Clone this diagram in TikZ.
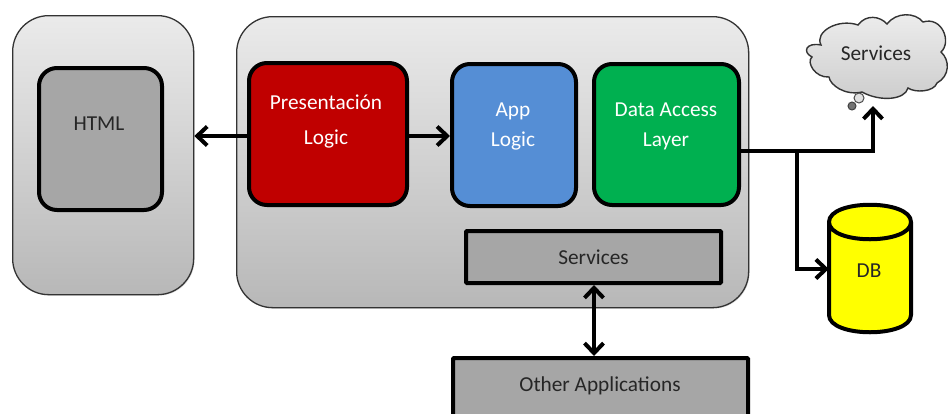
\documentclass[tikz,border=0pt]{standalone}
\usepackage{fontspec}
\setmainfont{Carlito}
\usetikzlibrary{arrows.meta,positioning,calc,shadows}
\definecolor{txtd}{HTML}{262626}
\definecolor{redbox}{HTML}{C00000}
\definecolor{bluebox}{HTML}{558ED5}
\definecolor{greenbox}{HTML}{00B050}
\definecolor{greybox}{HTML}{A6A6A6}
\definecolor{dbyellow}{HTML}{FFFF00}
\tikzset{
 panel/.style={draw=black!80,line width=1.3pt,rounded corners=36pt,top color=black!8,bottom color=black!28,drop shadow={shadow xshift=1pt,shadow yshift=-1pt,opacity=.25}},
 block/.style={draw=black,line width=4pt,rounded corners=18pt,inner sep=0pt},
 flat/.style={draw=black,line width=4pt,rounded corners=1pt,fill=greybox,font=\fontsize{21.3}{24}\selectfont,text=txtd,inner sep=0pt},
 conn/.style={line width=4pt,draw=black},
 tipb/.style={-{Straight Barb[length=10pt,width=19pt,line width=4pt]}},
 tipbb/.style={{Straight Barb[length=10pt,width=19pt,line width=4pt]}-{Straight Barb[length=10pt,width=19pt,line width=4pt]}},
 lbl/.style={font=\fontsize{21.3}{30}\selectfont,align=center,inner sep=0pt},
 lblwide/.style={font=\fontsize{21.3}{35}\selectfont,align=center,inner sep=0pt},
}
\begin{document}
\begin{tikzpicture}[x=1pt,y=-1pt]
\useasboundingbox (0,0) rectangle (948,413);
\clip (0,0) rectangle (948,413);
% panels
\node[panel,minimum width=181pt,minimum height=279pt,anchor=north west] (client) at (12,15) {};
\node[panel,minimum width=512pt,minimum height=291pt,anchor=north west] (server) at (236,16) {};
% blocks
\node[block,fill=greybox,minimum width=123pt,minimum height=142pt,anchor=north west] (html) at (37,66) {};
\node[lbl,text=txtd] at (99,124) {HTML};
\node[block,fill=redbox,minimum width=158pt,minimum height=142pt,anchor=north west] (pres) at (247,61) {};
\node[lblwide,text=white] at (326,121) {Presentación\\Logic};
\node[block,fill=bluebox,minimum width=124pt,minimum height=142pt,anchor=north west] (app) at (450,62) {};
\node[lbl,text=white] at (513,126) {App\\Logic};
\node[block,fill=greenbox,minimum width=145pt,minimum height=141pt,anchor=north west] (dal) at (592,62) {};
\node[lbl,text=white] at (666,126) {Data Access\\Layer};
\node[flat,minimum width=255pt,minimum height=52pt,anchor=north west] (svc) at (464,229) {Services};
\node[flat,minimum width=295pt,minimum height=90pt,anchor=north west] (other) at (451,356) {};
\node[lbl,text=txtd] at (600,386) {Other Applications};
% DB cylinder
\fill[dbyellow] (829,222) .. controls (829,199) and (911,199) .. (911,222) -- (911,315) .. controls (911,338) and (829,338) .. (829,315) -- cycle;
\draw[line width=4pt,line join=round] (829,222) .. controls (829,199) and (911,199) .. (911,222) .. controls (911,245) and (829,245) .. (829,222) -- (829,315) .. controls (829,338) and (911,338) .. (911,315) -- (911,222);
\node[minimum width=82pt,minimum height=126pt,inner sep=0pt] (db) at (870,269) {};
\node[lbl,text=txtd] (dblabel) at (869,271) {DB};
% cloud
\path[draw=black!80,line width=1.4pt,top color=black!7,bottom color=black!20]
 (821,45) .. controls (814,32) and (838,18) .. (858,25)
 .. controls (866,14) and (880,16) .. (887,24)
 .. controls (896,12) and (915,12) .. (923,22)
 .. controls (942,16) and (952,42) .. (941,52)
 .. controls (950,60) and (950,76) .. (937,83)
 .. controls (934,92) and (915,93) .. (908,88)
 .. controls (905,100) and (880,102) .. (862,92)
 .. controls (845,96) and (830,85) .. (829,77)
 .. controls (815,78) and (806,62) .. (812,57)
 .. controls (802,52) and (806,42) .. (821,45) -- cycle;
\draw[black!70,line width=1pt,fill=black!12] (859,98) circle[radius=5pt];
\draw[black!75,line width=1pt,fill=black!55] (852,106) circle[radius=4pt];
\node[lbl,text=txtd] (cloud) at (876,53) {Services};
\coordinate (cloudtip) at (873,106);
\coordinate (bend) at (873,151);
\coordinate (branch) at (797,151);
% connectors
\draw[conn,tipb] ($(pres.west)+(0,2)$) -- ($(client.east |- pres.west)+(0,2)$);
\draw[conn,tipb] ($(pres.east)+(0,2)$) -- ($(app.west |- pres.east)+(0,2)$);
\draw[conn,tipb] (dal.east |- bend) -- (bend) -- (cloudtip);
\draw[conn,tipb] (branch) -- (branch |- db.west) -- (db.west);
\draw[conn,tipbb] (svc.south -| 594,0) -- (other.north -| 594,0);
\end{tikzpicture}
\end{document}
